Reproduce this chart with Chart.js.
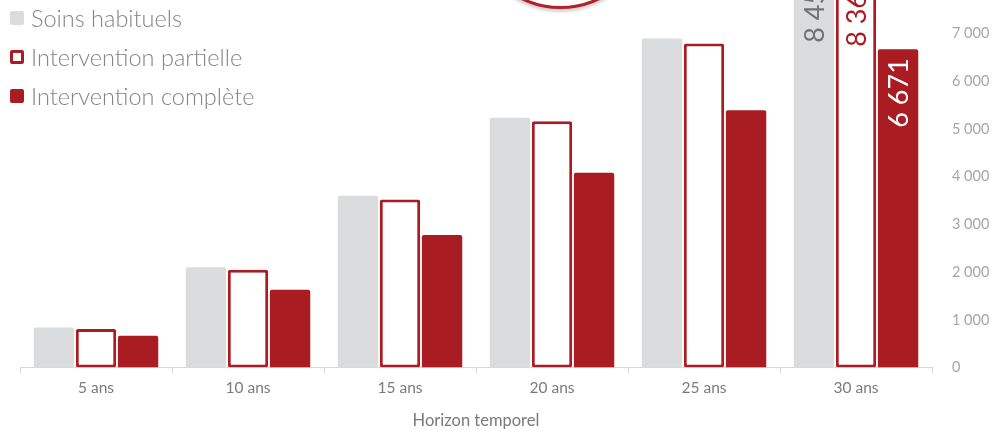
<!DOCTYPE html>
<html lang="fr">
<head>
<meta charset="utf-8">
<script src="https://cdn.jsdelivr.net/npm/chart.js@4.4.1/dist/chart.umd.min.js"></script>
<style>
  html, body { margin: 0; padding: 0; background: #fff; overflow: hidden; width: 994px; height: 431px; }
  #wrap { position: absolute; left: 0; top: -100px; width: 994px; height: 531px; }
  .badge { position: absolute; left: 470px; top: -172px; width: 175px; height: 175px; border: 3.5px solid #b0222a; border-radius: 50%; box-shadow: 0 3px 3px rgba(0,0,0,.18); background: #fff; }
  .legend { position: absolute; left: 10px; top: -2px; font-family: Lato, "Open Sans", sans-serif; font-weight: 300; font-size: 23.5px; color: #858585; }
  .legend div { height: 39px; line-height: 28px; display: flex; align-items: center; }
  .legend span { display: inline-block; width: 14px; height: 14px; margin-right: 7px; box-sizing: border-box; border-radius: 2px; }
</style>
</head>
<body>
<div id="wrap"><canvas id="chart" width="994" height="531"></canvas></div>
<div class="badge"></div>
<div class="legend" id="legend"></div>
<script>
const categories = ['5 ans', '10 ans', '15 ans', '20 ans', '25 ans', '30 ans'];
const seriesNames = ['Soins habituels', 'Intervention partielle', 'Intervention complète'];
const soinsHabituels = [840, 2100, 3600, 5235, 6895, 8450];
const interventionPartielle = [810, 2050, 3520, 5160, 6790, 8365];
const interventionComplete = [665, 1630, 2780, 4080, 5390, 6671];
const yTicks = [0, 1000, 2000, 3000, 4000, 5000, 6000, 7000, 8000, 9000];

const RED = '#a81c22';
const GREY = '#dbdcde';
const font = 'Lato, "Open Sans", sans-serif';

const fmt = v => String(v).replace(/\B(?=(\d{3})+(?!\d))/g, ' ');

// legend in the top-left corner, over the plot
const legendEl = document.getElementById('legend');
const swatches = [
  'background:' + GREY,
  'background:#fff;border:3px solid ' + RED,
  'background:' + RED
];
seriesNames.forEach((n, i) => {
  const row = document.createElement('div');
  row.innerHTML = '<span style="' + swatches[i] + '"></span>' + n;
  legendEl.appendChild(row);
});

// vertical value labels on the last group of bars
const lastLabels = {
  id: 'lastLabels',
  afterDatasetsDraw(chart) {
    const ctx = chart.ctx;
    const colors = ['#737373', RED, '#ffffff'];
    chart.data.datasets.forEach((ds, i) => {
      const idx = ds.data.length - 1;
      const bar = chart.getDatasetMeta(i).data[idx];
      ctx.save();
      ctx.translate(bar.x, bar.y + 9);
      ctx.rotate(-Math.PI / 2);
      ctx.font = '27px ' + font;
      ctx.fillStyle = colors[i];
      ctx.textAlign = 'right';
      ctx.textBaseline = 'middle';
      ctx.fillText(fmt(ds.data[idx]), 0, 1);
      ctx.restore();
    });
  }
};

new Chart(document.getElementById('chart'), {
  type: 'bar',
  data: {
    labels: categories,
    datasets: [
      { label: seriesNames[0], data: soinsHabituels, backgroundColor: GREY, borderRadius: 2, borderSkipped: 'bottom' },
      { label: seriesNames[1], data: interventionPartielle, backgroundColor: '#ffffff', borderColor: RED, borderWidth: 3, borderRadius: 2, borderSkipped: false },
      { label: seriesNames[2], data: interventionComplete, backgroundColor: RED, borderRadius: 2, borderSkipped: 'bottom' }
    ]
  },
  options: {
    responsive: false,
    animation: false,
    categoryPercentage: 0.83,
    barPercentage: 0.96,
    layout: { padding: { left: 20, top: 38, right: 0, bottom: 0 } },
    plugins: { legend: { display: false }, tooltip: { enabled: false } },
    scales: {
      x: {
        grid: { display: true, drawOnChartArea: false, tickLength: 6, color: '#d9d9d9', offset: true },
        border: { color: '#d9d9d9' },
        ticks: { color: '#7a7a7a', font: { family: font, size: 15.5 }, padding: 5 },
        title: { display: true, text: 'Horizon temporel', color: '#7a7a7a', font: { family: font, size: 16.5 }, padding: { top: 9, bottom: 0 } }
      },
      y: {
        position: 'right',
        min: 0,
        max: 9000,
        afterBuildTicks: s => { s.ticks = yTicks.map(v => ({ value: v })); },
        afterFit: s => { s.width = 62; },
        grid: { display: false, drawTicks: false },
        border: { display: false },
        ticks: { color: '#a6a6a6', font: { family: font, size: 14.5 }, padding: 20, callback: v => fmt(v) }
      }
    }
  },
  plugins: [lastLabels]
});
</script>
</body>
</html>
